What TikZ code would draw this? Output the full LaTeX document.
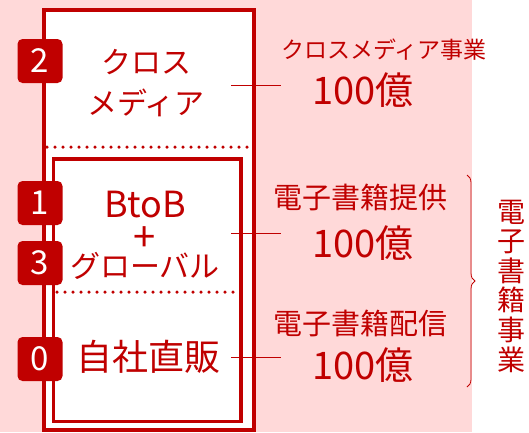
\documentclass[tikz,border=0pt]{standalone}
\usepackage{fontspec}
\setmainfont{Noto Sans CJK JP}
\usetikzlibrary{decorations.pathreplacing}
\definecolor{dred}{HTML}{C00000}
\definecolor{bgpink}{HTML}{FFD9D9}
\begin{document}
\begin{tikzpicture}[x=1pt,y=-1pt,
  badge/.style={fill=dred,rounded corners=5pt,minimum width=45pt,minimum height=44pt,inner sep=0pt,text=white,font=\fontsize{33}{33}\selectfont},
  lbl/.style={text=dred,align=center,inner sep=0pt},
  amount/.style={lbl,font=\fontsize{38}{38}\selectfont},
  sub/.style={lbl,font=\fontsize{29}{29}\selectfont},
  dotline/.style={dred,line width=3.5pt,line cap=round,dash pattern=on 0pt off 8pt},
  conn/.style={dred,line width=0.8pt}]
\useasboundingbox (0,0) rectangle (529,432);
\fill[bgpink] (0,0) rectangle (472,432);
% outer and inner boxes
\draw[dred,line width=4pt,fill=white] (43.5,9.5) rectangle (253.5,430);
\draw[dred,line width=3.5pt] (53.5,159) rectangle (241,421.5);
% dotted separators
\coordinate (d1a) at (47,147); \coordinate (d1b) at (251,147);
\coordinate (d2a) at (57,292); \coordinate (d2b) at (238,292);
\draw[dotline] (d1a) -- (d1b);
\draw[dotline] (d2a) -- (d2b);
% badges
\node[badge] (b2) at (40,61) {2};
\node[badge] (b1) at (40,203) {1};
\node[badge] (b3) at (40,263) {3};
\node[badge] (b0) at (40,359) {0};
% left labels
\node[lbl,font=\fontsize{30}{41}\selectfont] (cm) at (146,83) {クロス\\メディア};
\node[lbl,font=\fontsize{30}{30}\selectfont] (bg) at (145,235)
  {\fontsize{36}{30}\selectfont BtoB\\\fontsize{40}{30}\selectfont\raisebox{-4pt}{+}\\グローバル};
\node[lbl,font=\fontsize{36}{36}\selectfont] (js) at (148,357) {自社直販};
% right labels
\node[lbl,font=\fontsize{23}{23}\selectfont] (cmt) at (384,50) {クロスメディア事業};
\node[amount] (cmv) at (363,90) {100億};
\node[sub] (ept) at (360,197) {電子書籍提供};
\node[amount] (epv) at (363,243) {100億};
\node[sub] (edt) at (360,323) {電子書籍配信};
\node[amount] (edv) at (363,365) {100億};
% connectors
\coordinate (c1a) at (231,85); \coordinate (c1b) at (281,85);
\coordinate (c2a) at (231,233); \coordinate (c2b) at (281,233);
\coordinate (c3a) at (231,357); \coordinate (c3b) at (281,357);
\draw[conn] (c1a) -- (c1b);
\draw[conn] (c2a) -- (c2b);
\draw[conn] (c3a) -- (c3b);
% brace
\coordinate (br1) at (467,175); \coordinate (br2) at (467,387);
\draw[dred,line width=0.8pt,decorate,decoration={brace,amplitude=8pt}] (br1) -- (br2);
\node[lbl,font=\fontsize{28}{29.6}\selectfont] (vt) at (511,286) {電\\子\\書\\籍\\事\\業};
\end{tikzpicture}
\end{document}
